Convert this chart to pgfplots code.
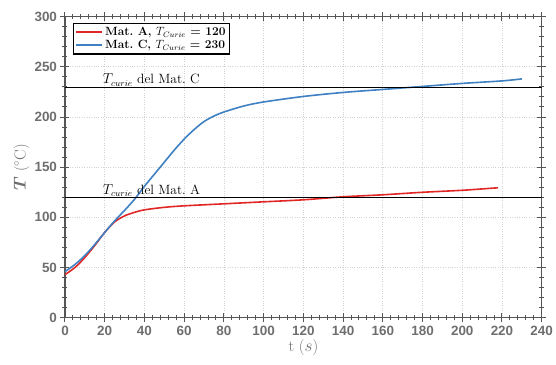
\documentclass[border=0pt]{standalone}
\usepackage{amsmath}
\usepackage{fontspec}
\usepackage{pgfplots}
\pgfplotsset{compat=1.18}
\newfontfamily\tickfont{Liberation Sans}
\definecolor{cred}{RGB}{225,38,38}
\definecolor{cblue}{RGB}{62,128,194}
\definecolor{axgray}{RGB}{85,85,85}
\definecolor{lblgray}{RGB}{110,110,110}
\begin{document}
\begin{tikzpicture}
\begin{axis}[
  scale only axis,
  width=476.7bp, height=301bp,
  xmin=0, xmax=240, ymin=0, ymax=300,
  xtick={0,20,...,240}, ytick={0,50,...,300},
  minor x tick num=4, minor y tick num=4,
  tick align=center,
  major tick length=9bp, minor tick length=5bp,
  axis line style={axgray, line width=1.3bp},
  every tick/.style={axgray, line width=1bp},
  grid=major,
  major grid style={lightgray!70, dotted, line width=0.8bp},
  /pgf/number format/assume math mode=true,
  ticklabel style={font=\tickfont\bfseries\fontsize{13.5}{13.5}\selectfont, text=lblgray},
  xlabel={t ($s$)}, ylabel={$\boldsymbol{T}$ ($^\circ$C)},
  label style={font=\fontsize{16}{18}\selectfont, text=lblgray},
  xlabel style={yshift=3bp},
  ylabel style={yshift=-2bp},
  legend style={at={(rel axis cs:0.016,0.98)}, anchor=north west,
    draw=black, line width=1.2bp, inner sep=2bp,
    font=\bfseries\fontsize{12}{13.5}\selectfont, row sep=-1bp},
  legend cell align=left,
  legend image code/.code={\draw[#1, line width=1.8bp] (0bp,0bp) -- (26bp,0bp);},
]
\addplot[cred, line width=1.6bp, smooth, tension=0.5] coordinates {
(0,43) (5,50) (10,60) (15,72) (20,85) (25,95.5) (30,101.5) (35,105) (40,107.5)
(50,110) (60,111.5) (80,113.5) (100,115.5) (120,117.5) (140,120.5) (160,122.5)
(180,125) (200,127) (218,129.5)};
\addlegendentry{Mat.\ A, $T_{Curie}$ = 120}
\addplot[cblue, line width=1.6bp, smooth, tension=0.5] coordinates {
(0,46) (5,53) (10,62) (15,73) (20,85) (25,96.5) (30,107) (35,118) (40,131)
(45,143) (50,155) (55,167) (60,178) (65,187.5) (70,195.5) (75,201) (80,205)
(90,211) (100,215) (120,220.5) (140,224.5) (160,227.5) (180,230.5) (200,233.5)
(220,236) (230,238)};
\addlegendentry{Mat.\ C, $T_{Curie}$ = 230}
\draw[black, line width=0.8bp] (axis cs:0,230) -- (axis cs:240,230);
\draw[black, line width=0.8bp] (axis cs:0,120) -- (axis cs:240,120);
\node[anchor=base west, inner sep=0pt, font=\fontsize{13.5}{15}\selectfont] at (axis cs:19,233) {$T_{curie}$ del Mat.\ C};
\node[anchor=base west, inner sep=0pt, font=\fontsize{13.5}{15}\selectfont] at (axis cs:19,123) {$T_{curie}$ del Mat.\ A};
\coordinate (SW) at (rel axis cs:0,0);
\coordinate (NE) at (rel axis cs:1,1);
\end{axis}
\pgfresetboundingbox
\path[use as bounding box] ([shift={(-65bp,-47bp)}]SW) rectangle ([shift={(14.3bp,16.7bp)}]NE);
\end{tikzpicture}
\end{document}
